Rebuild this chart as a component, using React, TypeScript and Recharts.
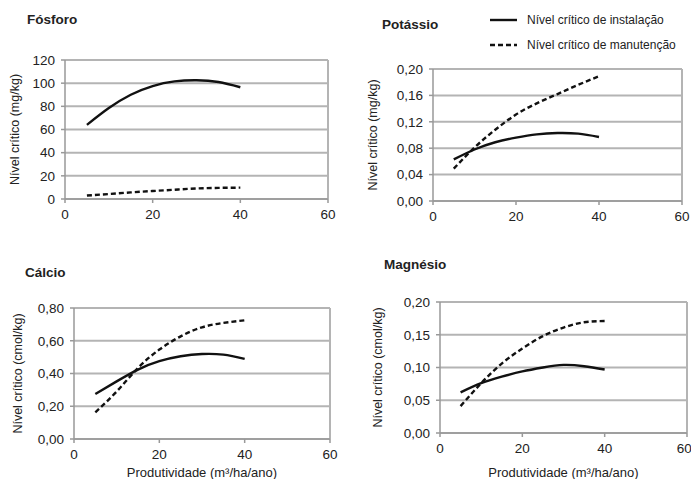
import { LineChart, Line, XAxis, YAxis, CartesianGrid, ReferenceLine } from 'recharts';

// productivity (m3/ha/ano)
const prod = [5, 10, 15, 20, 25, 30, 35, 40];

const fosforoInst = [64, 78.5, 90, 97.5, 101.5, 102.5, 101, 96.5];
const fosforoMan = [3, 4.3, 5.7, 6.9, 8, 9.1, 9.6, 9.8];

const potassioInst = [0.063, 0.078, 0.089, 0.096, 0.101, 0.103, 0.102, 0.097];
const potassioMan = [0.049, 0.081, 0.108, 0.131, 0.148, 0.162, 0.176, 0.189];

const calcioInst = [0.275, 0.352, 0.424, 0.475, 0.505, 0.519, 0.515, 0.489];
const calcioMan = [0.163, 0.29, 0.434, 0.546, 0.627, 0.682, 0.709, 0.725];

const magnesioInst = [0.062, 0.076, 0.086, 0.094, 0.1, 0.104, 0.102, 0.097];
const magnesioMan = [0.041, 0.076, 0.106, 0.129, 0.148, 0.161, 0.169, 0.171];

const xTicks = [0, 20, 40, 60];
const fosforoTicks = [0, 20, 40, 60, 80, 100, 120];
const potassioTicks = [0, 0.04, 0.08, 0.12, 0.16, 0.2];
const calcioTicks = [0, 0.2, 0.4, 0.6, 0.8];
const magnesioTicks = [0, 0.05, 0.1, 0.15, 0.2];

const FONT = '"Liberation Sans", Arial, sans-serif';
const TXT = '#222';
const GRID = '#b4b4b4';

const build = (a: number[], b: number[]) =>
  prod.map((x, i) => ({ x, inst: a[i], man: b[i] }));

const YLabel = (props: any) => {
  const { viewBox, text, dx } = props;
  const cx = viewBox.x + dx;
  const cy = viewBox.y + viewBox.height / 2;
  return (
    <text x={cx} y={cy} transform={`rotate(-90 ${cx} ${cy})`} textAnchor="middle"
      dominantBaseline="central" fontSize={12.5} fill={TXT} fontFamily={FONT}>
      {text}
    </text>
  );
};

interface PanelProps {
  left: number; top: number; width: number; height: number;
  yWidth: number; xHeight: number; mt: number; mr: number;
  inst: number[]; man: number[]; yTicks: number[]; yMax: number;
  decimals: number; ylabel: string; labelDx: number; xlabel?: boolean;
}

function Panel(p: PanelProps) {
  const data = build(p.inst, p.man);
  const fmt = (v: number) => p.decimals ? v.toFixed(p.decimals).replace('.', ',') : String(v);
  return (
    <div style={{ position: 'absolute', left: p.left, top: p.top }}>
      <LineChart width={p.width} height={p.height} data={data}
        margin={{ top: p.mt, right: p.mr, left: 0, bottom: 0 }}>
        <CartesianGrid vertical={false} stroke={GRID} strokeWidth={2} />
        <XAxis dataKey="x" type="number" domain={[0, 60]} ticks={xTicks} height={p.xHeight}
          stroke="#999" strokeWidth={1.5} tickSize={4} tickMargin={6}
          tick={{ fontSize: 13.5, fill: TXT, fontFamily: FONT }}
          label={p.xlabel ? { value: 'Produtividade (m³/ha/ano)', position: 'insideBottom', offset: 2, fontSize: 13, fill: TXT, fontFamily: FONT } : undefined} />
        <YAxis type="number" domain={[0, p.yMax]} ticks={p.yTicks} width={p.yWidth}
          stroke="#999" strokeWidth={1.5} tickSize={4} tickMargin={6} tickFormatter={fmt}
          tick={{ fontSize: 13.5, fill: TXT, fontFamily: FONT }}
          label={<YLabel text={p.ylabel} dx={p.labelDx} />} />
        <ReferenceLine x={60} stroke={GRID} strokeWidth={2} />
        <Line type="natural" dataKey="inst" stroke="#111" strokeWidth={2.4} dot={false} isAnimationActive={false} />
        <Line type="natural" dataKey="man" stroke="#111" strokeWidth={2.4} strokeDasharray="5 3" dot={false} isAnimationActive={false} />
      </LineChart>
    </div>
  );
}

const title = (t: string, left: number, top: number) => (
  <div style={{ position: 'absolute', left, top, fontFamily: FONT, fontWeight: 'bold', fontSize: 13.5, color: '#222', lineHeight: '16px' }}>{t}</div>
);

export default function App() {
  return (
    <div style={{ position: 'absolute', left: 0, top: 0, width: 691, height: 479, background: '#fff', overflow: 'hidden' }}>
      {title('Fósforo', 27, 12)}
      {title('Potássio', 382, 17)}
      {title('Cálcio', 25, 265)}
      {title('Magnésio', 384, 257)}

      <svg style={{ position: 'absolute', left: 0, top: 0 }} width={691} height={60}>
        <line x1={490} y1={20} x2={517} y2={20} stroke="#111" strokeWidth={2.4} />
        <line x1={490} y1={45} x2={517} y2={45} stroke="#111" strokeWidth={2.4} strokeDasharray="5 3" />
        <text x={527} y={20} dominantBaseline="central" fontSize={12} fill={TXT} fontFamily={FONT}>Nível crítico de instalação</text>
        <text x={527} y={45} dominantBaseline="central" fontSize={12} fill={TXT} fontFamily={FONT}>Nível crítico de manutenção</text>
      </svg>

      <Panel left={0} top={40} width={345} height={200} yWidth={65} xHeight={41} mt={20} mr={17}
        inst={fosforoInst} man={fosforoMan} yTicks={fosforoTicks} yMax={120} decimals={0}
        ylabel="Nível crítico (mg/kg)" labelDx={15} />
      <Panel left={345} top={40} width={346} height={200} yWidth={88} xHeight={39} mt={29} mr={9}
        inst={potassioInst} man={potassioMan} yTicks={potassioTicks} yMax={0.2} decimals={2}
        ylabel="Nível crítico (mg/kg)" labelDx={28} />
      <Panel left={0} top={280} width={345} height={199} yWidth={74} xHeight={40} mt={28} mr={15}
        inst={calcioInst} man={calcioMan} yTicks={calcioTicks} yMax={0.8} decimals={2}
        ylabel="Nível crítico (cmol/kg)" labelDx={18} xlabel />
      <Panel left={345} top={280} width={346} height={199} yWidth={95} xHeight={46} mt={22} mr={4}
        inst={magnesioInst} man={magnesioMan} yTicks={magnesioTicks} yMax={0.2} decimals={2}
        ylabel="Nível crítico (cmol/kg)" labelDx={33} xlabel />
    </div>
  );
}
